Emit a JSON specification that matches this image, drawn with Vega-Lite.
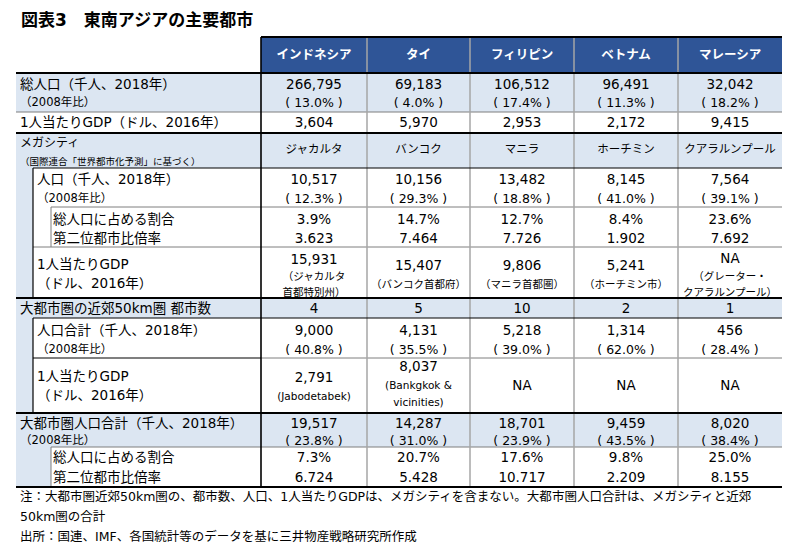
{
"$schema": "https://vega.github.io/schema/vega-lite/v6.json",
"width": 800, "height": 554,
"autosize": {"type": "fit", "contains": "padding"},
"padding": 0,
"background": "white",
"config": {"view": {"stroke": null}, "text": {"font": "DejaVu Sans, Noto Sans CJK JP", "baseline": "middle"}},
"datasets": {
"fills": [
{"kind":"head","x":261,"x2":782,"y":37,"y2":73},
{"kind":"band","x":16,"x2":782,"y":73,"y2":112},
{"kind":"band","x":16,"x2":782,"y":133,"y2":168},
{"kind":"band","x":16,"x2":33,"y":168,"y2":298},
{"kind":"band","x":16,"x2":782,"y":298,"y2":318},
{"kind":"band","x":16,"x2":33,"y":318,"y2":413},
{"kind":"band","x":16,"x2":782,"y":413,"y2":447},
{"kind":"band","x":16,"x2":51,"y":447,"y2":487}
],
"lines": [
{"kind":"thick","x":261,"x2":782,"y":37,"y2":37},
{"kind":"thick","x":16,"x2":782,"y":73,"y2":73},
{"kind":"thick","x":16,"x2":782,"y":133,"y2":133},
{"kind":"thick","x":16,"x2":782,"y":298,"y2":298},
{"kind":"thick","x":16,"x2":782,"y":413,"y2":413},
{"kind":"thick","x":16,"x2":782,"y":487,"y2":487},
{"kind":"vblack","x":261,"x2":261,"y":37,"y2":487},
{"kind":"grey","x":16,"x2":782,"y":112,"y2":112},
{"kind":"grey","x":51,"x2":782,"y":207,"y2":207},
{"kind":"grey","x":33,"x2":782,"y":247,"y2":247},
{"kind":"grey","x":51,"x2":782,"y":447,"y2":447},
{"kind":"grey","x":51,"x2":51,"y":207,"y2":247},
{"kind":"grey","x":51,"x2":51,"y":447,"y2":487},
{"kind":"grey","x":261,"x2":782,"y":358,"y2":358},
{"kind":"black","x":33,"x2":782,"y":168,"y2":168},
{"kind":"black","x":33,"x2":782,"y":318,"y2":318},
{"kind":"black","x":33,"x2":261,"y":358,"y2":358},
{"kind":"black","x":33,"x2":33,"y":168,"y2":298},
{"kind":"black","x":33,"x2":33,"y":318,"y2":413},
{"kind":"vgrey","x":367,"x2":367,"y":37,"y2":487},
{"kind":"vgrey","x":470,"x2":470,"y":37,"y2":487},
{"kind":"vgrey","x":574,"x2":574,"y":37,"y2":487},
{"kind":"vgrey","x":678,"x2":678,"y":37,"y2":487}
],
"texts": [
{"role":"title","x":21,"y":21,"text":"図表3　東南アジアの主要都市"},
{"role":"head","x":314,"y":55,"text":"インドネシア"},
{"role":"head","x":418.5,"y":55,"text":"タイ"},
{"role":"head","x":522,"y":55,"text":"フィリピン"},
{"role":"head","x":626,"y":55,"text":"ベトナム"},
{"role":"head","x":730,"y":55,"text":"マレーシア"},

{"role":"label","x":20,"y":85,"text":"総人口（千人、2018年）"},
{"role":"lsub","x":20,"y":103,"text":"（2008年比）"},
{"role":"label","x":20,"y":123,"text":"1人当たりGDP（ドル、2016年）"},
{"role":"label12","x":20,"y":143,"text":"メガシティ"},
{"role":"lsub10","x":20,"y":162,"text":"（国際連合「世界都市化予測」に基づく）"},
{"role":"label","x":37,"y":180,"text":"人口（千人、2018年）"},
{"role":"lsub","x":37,"y":199,"text":"（2008年比）"},
{"role":"label","x":53,"y":220,"text":"総人口に占める割合"},
{"role":"label","x":53,"y":239,"text":"第二位都市比倍率"},
{"role":"label","x":37,"y":265,"text":"1人当たりGDP"},
{"role":"label","x":37,"y":284,"text":"（ドル、2016年）"},
{"role":"label","x":20,"y":309,"text":"大都市圏の近郊50km圏 都市数"},
{"role":"label","x":37,"y":331,"text":"人口合計（千人、2018年）"},
{"role":"lsub","x":37,"y":350,"text":"（2008年比）"},
{"role":"label","x":37,"y":377,"text":"1人当たりGDP"},
{"role":"label","x":37,"y":396,"text":"（ドル、2016年）"},
{"role":"label","x":20,"y":424,"text":"大都市圏人口合計（千人、2018年）"},
{"role":"lsub","x":20,"y":441,"text":"（2008年比）"},
{"role":"label","x":53,"y":458,"text":"総人口に占める割合"},
{"role":"label","x":53,"y":478,"text":"第二位都市比倍率"},

{"role":"value","x":314,"y":85,"text":"266,795"},
{"role":"value","x":418.5,"y":85,"text":"69,183"},
{"role":"value","x":522,"y":85,"text":"106,512"},
{"role":"value","x":626,"y":85,"text":"96,491"},
{"role":"value","x":730,"y":85,"text":"32,042"},
{"role":"pct","x":314,"y":103,"text":"( 13.0% )"},
{"role":"pct","x":418.5,"y":103,"text":"( 4.0% )"},
{"role":"pct","x":522,"y":103,"text":"( 17.4% )"},
{"role":"pct","x":626,"y":103,"text":"( 11.3% )"},
{"role":"pct","x":730,"y":103,"text":"( 18.2% )"},
{"role":"value","x":314,"y":123,"text":"3,604"},
{"role":"value","x":418.5,"y":123,"text":"5,970"},
{"role":"value","x":522,"y":123,"text":"2,953"},
{"role":"value","x":626,"y":123,"text":"2,172"},
{"role":"value","x":730,"y":123,"text":"9,415"},
{"role":"city","x":314,"y":150,"text":"ジャカルタ"},
{"role":"city","x":418.5,"y":150,"text":"バンコク"},
{"role":"city","x":522,"y":150,"text":"マニラ"},
{"role":"city","x":626,"y":150,"text":"ホーチミン"},
{"role":"city","x":730,"y":150,"text":"クアラルンプール"},
{"role":"value","x":314,"y":180,"text":"10,517"},
{"role":"value","x":418.5,"y":180,"text":"10,156"},
{"role":"value","x":522,"y":180,"text":"13,482"},
{"role":"value","x":626,"y":180,"text":"8,145"},
{"role":"value","x":730,"y":180,"text":"7,564"},
{"role":"pct","x":314,"y":199,"text":"( 12.3% )"},
{"role":"pct","x":418.5,"y":199,"text":"( 29.3% )"},
{"role":"pct","x":522,"y":199,"text":"( 18.8% )"},
{"role":"pct","x":626,"y":199,"text":"( 41.0% )"},
{"role":"pct","x":730,"y":199,"text":"( 39.1% )"},
{"role":"value","x":314,"y":220,"text":"3.9%"},
{"role":"value","x":418.5,"y":220,"text":"14.7%"},
{"role":"value","x":522,"y":220,"text":"12.7%"},
{"role":"value","x":626,"y":220,"text":"8.4%"},
{"role":"value","x":730,"y":220,"text":"23.6%"},
{"role":"value","x":314,"y":239,"text":"3.623"},
{"role":"value","x":418.5,"y":239,"text":"7.464"},
{"role":"value","x":522,"y":239,"text":"7.726"},
{"role":"value","x":626,"y":239,"text":"1.902"},
{"role":"value","x":730,"y":239,"text":"7.692"},
{"role":"value","x":314,"y":260,"text":"15,931"},
{"role":"vsub","x":314,"y":277,"text":"（ジャカルタ"},
{"role":"vsub","x":314,"y":293,"text":"首都特別州）"},
{"role":"value","x":418.5,"y":266,"text":"15,407"},
{"role":"vsub","x":418.5,"y":285,"text":"（バンコク首都府）"},
{"role":"value","x":522,"y":266,"text":"9,806"},
{"role":"vsub","x":522,"y":285,"text":"（マニラ首都圏）"},
{"role":"value","x":626,"y":266,"text":"5,241"},
{"role":"vsub","x":626,"y":285,"text":"（ホーチミン市）"},
{"role":"value","x":730,"y":259,"text":"NA"},
{"role":"vsub","x":730,"y":277,"text":"（グレーター・"},
{"role":"vsub","x":730,"y":293,"text":"クアラルンプール）"},
{"role":"value","x":314,"y":309,"text":"4"},
{"role":"value","x":418.5,"y":309,"text":"5"},
{"role":"value","x":522,"y":309,"text":"10"},
{"role":"value","x":626,"y":309,"text":"2"},
{"role":"value","x":730,"y":309,"text":"1"},
{"role":"value","x":314,"y":331,"text":"9,000"},
{"role":"value","x":418.5,"y":331,"text":"4,131"},
{"role":"value","x":522,"y":331,"text":"5,218"},
{"role":"value","x":626,"y":331,"text":"1,314"},
{"role":"value","x":730,"y":331,"text":"456"},
{"role":"pct","x":314,"y":350,"text":"( 40.8% )"},
{"role":"pct","x":418.5,"y":350,"text":"( 35.5% )"},
{"role":"pct","x":522,"y":350,"text":"( 39.0% )"},
{"role":"pct","x":626,"y":350,"text":"( 62.0% )"},
{"role":"pct","x":730,"y":350,"text":"( 28.4% )"},
{"role":"value","x":314,"y":378,"text":"2,791"},
{"role":"vsub","x":314,"y":397,"text":"(Jabodetabek)"},
{"role":"value","x":418.5,"y":367,"text":"8,037"},
{"role":"vsub","x":418.5,"y":386,"text":"(Bankgkok &"},
{"role":"vsub","x":418.5,"y":403,"text":"vicinities)"},
{"role":"value","x":522,"y":386,"text":"NA"},
{"role":"value","x":626,"y":386,"text":"NA"},
{"role":"value","x":730,"y":386,"text":"NA"},
{"role":"value","x":314,"y":424,"text":"19,517"},
{"role":"value","x":418.5,"y":424,"text":"14,287"},
{"role":"value","x":522,"y":424,"text":"18,701"},
{"role":"value","x":626,"y":424,"text":"9,459"},
{"role":"value","x":730,"y":424,"text":"8,020"},
{"role":"pct","x":314,"y":441,"text":"( 23.8% )"},
{"role":"pct","x":418.5,"y":441,"text":"( 31.0% )"},
{"role":"pct","x":522,"y":441,"text":"( 23.9% )"},
{"role":"pct","x":626,"y":441,"text":"( 43.5% )"},
{"role":"pct","x":730,"y":441,"text":"( 38.4% )"},
{"role":"value","x":314,"y":458,"text":"7.3%"},
{"role":"value","x":418.5,"y":458,"text":"20.7%"},
{"role":"value","x":522,"y":458,"text":"17.6%"},
{"role":"value","x":626,"y":458,"text":"9.8%"},
{"role":"value","x":730,"y":458,"text":"25.0%"},
{"role":"value","x":314,"y":478,"text":"6.724"},
{"role":"value","x":418.5,"y":478,"text":"5.428"},
{"role":"value","x":522,"y":478,"text":"10.717"},
{"role":"value","x":626,"y":478,"text":"2.209"},
{"role":"value","x":730,"y":478,"text":"8.155"},

{"role":"note","x":20,"y":497,"text":"注：大都市圏近郊50km圏の、都市数、人口、1人当たりGDPは、メガシティを含まない。大都市圏人口合計は、メガシティと近郊"},
{"role":"note","x":20,"y":517,"text":"50km圏の合計"},
{"role":"note","x":20,"y":537,"text":"出所：国連、IMF、各国統計等のデータを基に三井物産戦略研究所作成"}
]
},
"layer": [
{"data":{"name":"fills"},"transform":[{"filter":"datum.kind=='head'"}],"mark":{"type":"rect","color":"#2f5597"},
 "encoding":{"x":{"field":"x","type":"quantitative","scale":{"domain":[0,800],"nice":false,"zero":false},"axis":null},"x2":{"field":"x2"},
  "y":{"field":"y","type":"quantitative","scale":{"domain":[0,554],"nice":false,"zero":false,"reverse":true},"axis":null},"y2":{"field":"y2"}}},
{"data":{"name":"fills"},"transform":[{"filter":"datum.kind=='band'"}],"mark":{"type":"rect","color":"#dce6f2"},
 "encoding":{"x":{"field":"x","type":"quantitative","scale":{"domain":[0,800],"nice":false,"zero":false},"axis":null},"x2":{"field":"x2"},
  "y":{"field":"y","type":"quantitative","scale":{"domain":[0,554],"nice":false,"zero":false,"reverse":true},"axis":null},"y2":{"field":"y2"}}},
{"data":{"name":"lines"},"transform":[{"filter":"datum.kind=='grey'"}],"mark":{"type":"rule","color":"#7f7f7f","strokeWidth":1},
 "encoding":{"x":{"field":"x","type":"quantitative","scale":{"domain":[0,800],"nice":false,"zero":false},"axis":null},"x2":{"field":"x2"},
  "y":{"field":"y","type":"quantitative","scale":{"domain":[0,554],"nice":false,"zero":false,"reverse":true},"axis":null},"y2":{"field":"y2"}}},
{"data":{"name":"lines"},"transform":[{"filter":"datum.kind=='vgrey'"}],"mark":{"type":"rule","color":"#a6a6a6","strokeWidth":1.5},
 "encoding":{"x":{"field":"x","type":"quantitative","scale":{"domain":[0,800],"nice":false,"zero":false},"axis":null},"x2":{"field":"x2"},
  "y":{"field":"y","type":"quantitative","scale":{"domain":[0,554],"nice":false,"zero":false,"reverse":true},"axis":null},"y2":{"field":"y2"}}},
{"data":{"name":"lines"},"transform":[{"filter":"datum.kind=='black'"}],"mark":{"type":"rule","color":"#000000","strokeWidth":1.2},
 "encoding":{"x":{"field":"x","type":"quantitative","scale":{"domain":[0,800],"nice":false,"zero":false},"axis":null},"x2":{"field":"x2"},
  "y":{"field":"y","type":"quantitative","scale":{"domain":[0,554],"nice":false,"zero":false,"reverse":true},"axis":null},"y2":{"field":"y2"}}},
{"data":{"name":"lines"},"transform":[{"filter":"datum.kind=='vblack'"}],"mark":{"type":"rule","color":"#000000","strokeWidth":1.6},
 "encoding":{"x":{"field":"x","type":"quantitative","scale":{"domain":[0,800],"nice":false,"zero":false},"axis":null},"x2":{"field":"x2"},
  "y":{"field":"y","type":"quantitative","scale":{"domain":[0,554],"nice":false,"zero":false,"reverse":true},"axis":null},"y2":{"field":"y2"}}},
{"data":{"name":"lines"},"transform":[{"filter":"datum.kind=='thick'"}],"mark":{"type":"rule","color":"#000000","strokeWidth":2},
 "encoding":{"x":{"field":"x","type":"quantitative","scale":{"domain":[0,800],"nice":false,"zero":false},"axis":null},"x2":{"field":"x2"},
  "y":{"field":"y","type":"quantitative","scale":{"domain":[0,554],"nice":false,"zero":false,"reverse":true},"axis":null},"y2":{"field":"y2"}}},
{"data":{"name":"texts"},"transform":[{"filter":"datum.role=='title'"}],"mark":{"type":"text","align":"left","fontSize":17,"fontWeight":"bold","color":"#000000"},
 "encoding":{"x":{"field":"x","type":"quantitative","scale":{"domain":[0,800],"nice":false,"zero":false},"axis":null},"y":{"field":"y","type":"quantitative","scale":{"domain":[0,554],"nice":false,"zero":false,"reverse":true},"axis":null},"text":{"field":"text"}}},
{"data":{"name":"texts"},"transform":[{"filter":"datum.role=='head'"}],"mark":{"type":"text","align":"center","fontSize":12.5,"fontWeight":"bold","color":"#ffffff"},
 "encoding":{"x":{"field":"x","type":"quantitative","scale":{"domain":[0,800],"nice":false,"zero":false},"axis":null},"y":{"field":"y","type":"quantitative","scale":{"domain":[0,554],"nice":false,"zero":false,"reverse":true},"axis":null},"text":{"field":"text"}}},
{"data":{"name":"texts"},"transform":[{"filter":"datum.role=='label'"}],"mark":{"type":"text","align":"left","fontSize":13.5,"color":"#000000"},
 "encoding":{"x":{"field":"x","type":"quantitative","scale":{"domain":[0,800],"nice":false,"zero":false},"axis":null},"y":{"field":"y","type":"quantitative","scale":{"domain":[0,554],"nice":false,"zero":false,"reverse":true},"axis":null},"text":{"field":"text"}}},
{"data":{"name":"texts"},"transform":[{"filter":"datum.role=='label12'"}],"mark":{"type":"text","align":"left","fontSize":12,"color":"#000000"},
 "encoding":{"x":{"field":"x","type":"quantitative","scale":{"domain":[0,800],"nice":false,"zero":false},"axis":null},"y":{"field":"y","type":"quantitative","scale":{"domain":[0,554],"nice":false,"zero":false,"reverse":true},"axis":null},"text":{"field":"text"}}},
{"data":{"name":"texts"},"transform":[{"filter":"datum.role=='lsub'"}],"mark":{"type":"text","align":"left","fontSize":11.5,"color":"#000000"},
 "encoding":{"x":{"field":"x","type":"quantitative","scale":{"domain":[0,800],"nice":false,"zero":false},"axis":null},"y":{"field":"y","type":"quantitative","scale":{"domain":[0,554],"nice":false,"zero":false,"reverse":true},"axis":null},"text":{"field":"text"}}},
{"data":{"name":"texts"},"transform":[{"filter":"datum.role=='lsub10'"}],"mark":{"type":"text","align":"left","fontSize":9.5,"color":"#000000"},
 "encoding":{"x":{"field":"x","type":"quantitative","scale":{"domain":[0,800],"nice":false,"zero":false},"axis":null},"y":{"field":"y","type":"quantitative","scale":{"domain":[0,554],"nice":false,"zero":false,"reverse":true},"axis":null},"text":{"field":"text"}}},
{"data":{"name":"texts"},"transform":[{"filter":"datum.role=='value'"}],"mark":{"type":"text","align":"center","fontSize":13.5,"color":"#000000"},
 "encoding":{"x":{"field":"x","type":"quantitative","scale":{"domain":[0,800],"nice":false,"zero":false},"axis":null},"y":{"field":"y","type":"quantitative","scale":{"domain":[0,554],"nice":false,"zero":false,"reverse":true},"axis":null},"text":{"field":"text"}}},
{"data":{"name":"texts"},"transform":[{"filter":"datum.role=='pct'"}],"mark":{"type":"text","align":"center","fontSize":12.5,"color":"#000000"},
 "encoding":{"x":{"field":"x","type":"quantitative","scale":{"domain":[0,800],"nice":false,"zero":false},"axis":null},"y":{"field":"y","type":"quantitative","scale":{"domain":[0,554],"nice":false,"zero":false,"reverse":true},"axis":null},"text":{"field":"text"}}},
{"data":{"name":"texts"},"transform":[{"filter":"datum.role=='city'"}],"mark":{"type":"text","align":"center","fontSize":11.5,"color":"#000000"},
 "encoding":{"x":{"field":"x","type":"quantitative","scale":{"domain":[0,800],"nice":false,"zero":false},"axis":null},"y":{"field":"y","type":"quantitative","scale":{"domain":[0,554],"nice":false,"zero":false,"reverse":true},"axis":null},"text":{"field":"text"}}},
{"data":{"name":"texts"},"transform":[{"filter":"datum.role=='vsub'"}],"mark":{"type":"text","align":"center","fontSize":10.5,"color":"#000000"},
 "encoding":{"x":{"field":"x","type":"quantitative","scale":{"domain":[0,800],"nice":false,"zero":false},"axis":null},"y":{"field":"y","type":"quantitative","scale":{"domain":[0,554],"nice":false,"zero":false,"reverse":true},"axis":null},"text":{"field":"text"}}},
{"data":{"name":"texts"},"transform":[{"filter":"datum.role=='note'"}],"mark":{"type":"text","align":"left","fontSize":12.5,"color":"#000000"},
 "encoding":{"x":{"field":"x","type":"quantitative","scale":{"domain":[0,800],"nice":false,"zero":false},"axis":null},"y":{"field":"y","type":"quantitative","scale":{"domain":[0,554],"nice":false,"zero":false,"reverse":true},"axis":null},"text":{"field":"text"}}}
]
}
